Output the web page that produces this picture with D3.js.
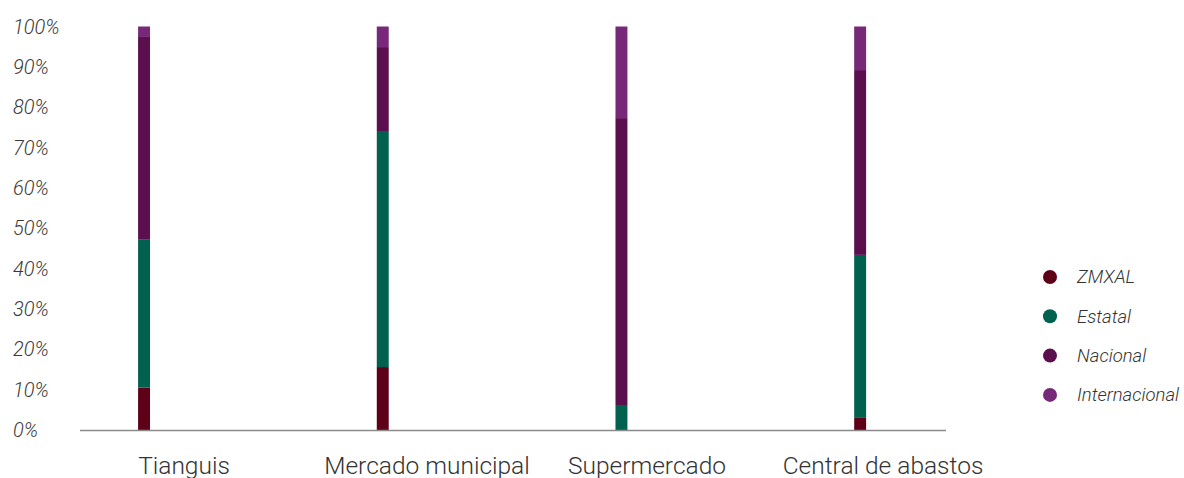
<!DOCTYPE html>
<html>
<head>
<meta charset="utf-8">
<script src="https://cdn.jsdelivr.net/npm/d3@7"></script>
<style>
  body { margin: 0; background: #fff; }
  svg { display: block; font-family: Roboto, sans-serif; }
</style>
</head>
<body>
<div id="chart"></div>
<script>
// categories and series (percent of each place of purchase)
var categories = ["Tianguis", "Mercado municipal", "Supermercado", "Central de abastos"];
var seriesNames = ["ZMXAL", "Estatal", "Nacional", "Internacional"];
var zmxal = [10.5, 15.6, 0, 3.0];
var estatal = [36.8, 58.5, 6.2, 40.4];
var nacional = [50.3, 20.8, 71.1, 45.8];
var internacional = [2.4, 5.1, 22.7, 10.8];
var yTicks = [0, 10, 20, 30, 40, 50, 60, 70, 80, 90, 100];
var colors = ["#5f0019", "#00614f", "#5b0f4f", "#782878"];

var width = 1184, height = 478;
// label centres under the bars, as placed in the original
var labelCenters = [184, 427, 647, 883];

var rows = categories.map(function (c, i) {
    return { cat: c, ZMXAL: zmxal[i], Estatal: estatal[i], Nacional: nacional[i], Internacional: internacional[i] };
});

var svg = d3.select("#chart").append("svg")
    .attr("width", width)
    .attr("height", height);

var y = d3.scaleLinear().domain([0, 100]).range([430, 26.5]);

var x = d3.scaleBand()
    .domain(categories)
    .range([24.7, 979.5])
    .paddingInner(0.95)
    .paddingOuter(0.475);

var xLabel = d3.scaleOrdinal().domain(categories).range(labelCenters);

var color = d3.scaleOrdinal().domain(seriesNames).range(colors);

var stack = d3.stack().keys(seriesNames);
var layers = stack(rows);

svg.append("g")
    .selectAll("g")
    .data(layers)
    .enter().append("g")
    .attr("fill", function (d) { return color(d.key); })
    .selectAll("rect")
    .data(function (d) { return d; })
    .enter().append("rect")
    .attr("x", function (d) { return x(d.data.cat); })
    .attr("width", x.bandwidth())
    .attr("y", function (d) { return y(d[1]); })
    .attr("height", function (d) { return Math.max(0, y(d[0]) - y(d[1])); });

// baseline
svg.append("line")
    .attr("x1", 80).attr("x2", 946)
    .attr("y1", y(0) + 0.5).attr("y2", y(0) + 0.5)
    .attr("stroke", "#8a8a8a")
    .attr("stroke-width", 1.5);

// y tick labels
svg.append("g")
    .selectAll("text")
    .data(yTicks)
    .enter().append("text")
    .attr("x", 13)
    .attr("y", function (d) { return y(d); })
    .attr("dy", "0.35em")
    .attr("font-size", 20)
    .attr("font-weight", 300)
    .attr("font-style", "italic")
    .attr("fill", "#3a3a3a")
    .text(function (d) { return d + "%"; });

// x labels
svg.append("g")
    .selectAll("text")
    .data(categories)
    .enter().append("text")
    .attr("x", function (d) { return xLabel(d); })
    .attr("y", 474)
    .attr("text-anchor", "middle")
    .attr("font-size", 24.5)
    .attr("font-weight", 300)
    .attr("fill", "#333")
    .text(function (d) { return d; });

// legend
var legend = svg.append("g")
    .selectAll("g")
    .data(seriesNames)
    .enter().append("g")
    .attr("transform", function (d, i) { return "translate(1050," + (277 + i * 39.3) + ")"; });

legend.append("circle")
    .attr("r", 7)
    .attr("fill", function (d) { return color(d); });

legend.append("text")
    .attr("x", 27)
    .attr("dy", "0.35em")
    .attr("font-size", 18.5)
    .attr("font-weight", 300)
    .attr("font-style", "italic")
    .attr("fill", "#333")
    .text(function (d) { return d; });
</script>
</body>
</html>
